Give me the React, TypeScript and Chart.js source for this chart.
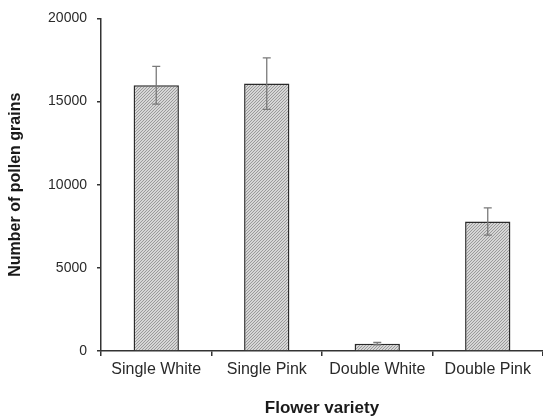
import React, { useEffect, useRef } from "react";
import { Chart, registerables } from "chart.js";

Chart.register(...registerables);

const categories = ["Single White", "Single Pink", "Double White", "Double Pink"];
const pollenMeans = [15980, 16080, 440, 7790];
const pollenErrors = [1140, 1550, 70, 820];
const yTicks = [0, 5000, 10000, 15000, 20000];

function makePattern(): CanvasPattern | string {
  const c = document.createElement("canvas");
  c.width = 3;
  c.height = 3;
  const g = c.getContext("2d");
  if (!g) return "#bdbdbd";
  g.fillStyle = "#d6d6d6";
  g.fillRect(0, 0, 3, 3);
  g.fillStyle = "#9a9a9a";
  for (let i = 0; i < 3; i++) {
    g.fillRect(i, 2 - i, 1, 1);
  }
  const p = g.createPattern(c, "repeat");
  return p || "#bdbdbd";
}

const errorBarPlugin = {
  id: "errorBars",
  afterDatasetsDraw(chart: any) {
    const ctx = chart.ctx;
    const yScale = chart.scales.y;
    const meta = chart.getDatasetMeta(0);
    ctx.save();
    ctx.strokeStyle = "#7a7a7a";
    ctx.lineWidth = 1.3;
    meta.data.forEach((el: any, i: number) => {
      const x = el.x;
      const top = yScale.getPixelForValue(pollenMeans[i] + pollenErrors[i]);
      const bot = yScale.getPixelForValue(pollenMeans[i] - pollenErrors[i]);
      const cap = 4;
      ctx.beginPath();
      ctx.moveTo(x, top);
      ctx.lineTo(x, bot);
      ctx.moveTo(x - cap, top);
      ctx.lineTo(x + cap, top);
      ctx.moveTo(x - cap, bot);
      ctx.lineTo(x + cap, bot);
      ctx.stroke();
    });
    ctx.restore();
  },
};

export default function App() {
  const ref = useRef<HTMLCanvasElement>(null);
  useEffect(() => {
    if (!ref.current) return;
    const font = "Arial, 'Liberation Sans', sans-serif";
    const chart = new Chart(ref.current, {
      type: "bar",
      data: {
        labels: categories,
        datasets: [
          {
            data: pollenMeans,
            backgroundColor: makePattern() as any,
            borderColor: "#2a2a2a",
            borderWidth: 1.5,
            borderSkipped: "bottom",
            barPercentage: 0.41,
            categoryPercentage: 1,
          },
        ],
      },
      options: {
        animation: false,
        responsive: true,
        maintainAspectRatio: false,
        layout: { padding: { top: 18, right: 0, left: 0, bottom: 0 } },
        plugins: {
          legend: { display: false },
          tooltip: { enabled: false },
        },
        scales: {
          x: {
            grid: {
              drawOnChartArea: false,
              drawTicks: true,
              tickLength: 5,
              color: "#333",
              lineWidth: 1.5,
            },
            border: { color: "#333", width: 1.5 },
            ticks: {
              color: "#2a2a2a",
              font: { family: font, size: 16 },
              padding: 4,
            },
            title: {
              display: true,
              text: "Flower variety",
              color: "#1a1a1a",
              font: { family: font, size: 17, weight: "bold" },
              padding: { top: 8, bottom: 0 },
            },
            afterFit(scale: any) {
              scale.height = 68;
            },
          },
          y: {
            min: 0,
            max: 20000,
            afterBuildTicks(scale: any) {
              scale.ticks = yTicks.map((v) => ({ value: v }));
            },
            grid: {
              drawOnChartArea: false,
              drawTicks: true,
              tickLength: 4,
              color: "#333",
              lineWidth: 1.5,
            },
            border: { color: "#333", width: 1.5 },
            ticks: {
              color: "#2a2a2a",
              font: { family: font, size: 14 },
              padding: 10,
              callback: (v: any) => String(v),
            },
            title: {
              display: true,
              text: "Number of pollen grains",
              color: "#1a1a1a",
              font: { family: font, size: 16, weight: "bold" },
              padding: { top: 6, bottom: 0 },
            },
            afterFit(scale: any) {
              scale.width = 101;
            },
          },
        },
      },
      plugins: [errorBarPlugin],
    });
    return () => chart.destroy();
  }, []);
  return (
    <div style={{ position: "fixed", left: 0, top: 0, width: 543, height: 419, background: "#fff" }}>
      <canvas ref={ref} />
    </div>
  );
}
